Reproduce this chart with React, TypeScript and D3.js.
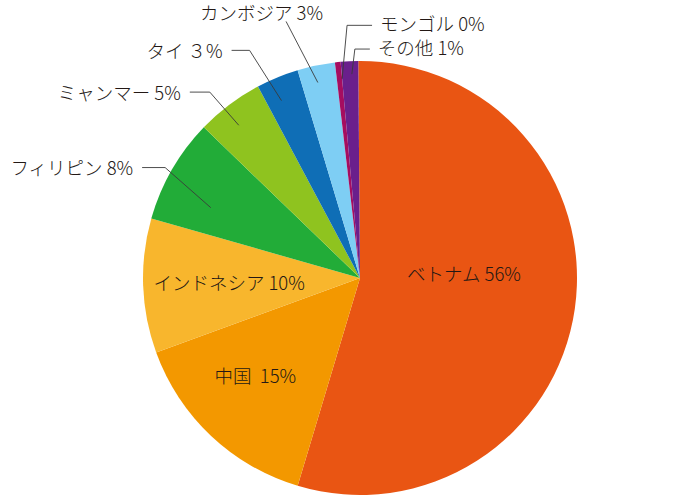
import React, { useRef, useEffect } from 'react';
import * as d3 from 'd3';

// clockwise from 12 o'clock
const COUNTRIES = ["ベトナム", "中国", "インドネシア", "フィリピン", "ミャンマー", "タイ", "カンボジア", "モンゴル", "その他"];
const SHARES = [54.8, 14.8, 10.0, 7.8, 5.0, 3.15, 2.8, 0.42, 1.3];
const LABELS = ["ベトナム 56%", "中国  15%", "インドネシア 10%", "フィリピン 8%", "ミャンマー 5%", "タイ ３%", "カンボジア 3%", "モンゴル 0%", "その他 1%"];
const COLORS = ["#e95513", "#f39800", "#f8b62d", "#22ac38", "#8fc31f", "#0f6eb6", "#7ecef4", "#a50d60", "#6a1f8c"];

// labels drawn inside the slice: radius + angle shift (deg) from slice middle
const INSIDE: { [k: string]: { r: number; shift: number } } = {
    "ベトナム": { r: 104, shift: -10 },
    "中国": { r: 144, shift: 3.3 },
    "インドネシア": { r: 131, shift: -0.3 }
};

// leader lines for small slices
const LEADERS: { [k: string]: { startR: number; startShift: number; elbowR: number; elbowShift: number; arm: number } } = {
    "フィリピン": { startR: 165, startShift: -4.7, elbowR: 224, elbowShift: -0.4, arm: -23 },
    "ミャンマー": { startR: 195, startShift: -1.4, elbowR: 239, elbowShift: -1.9, arm: -20 },
    "タイ": { startR: 194, startShift: -1.5, elbowR: 253, elbowShift: -3.5, arm: -18 },
    "カンボジア": { startR: 200, startShift: -0.5, elbowR: 267, elbowShift: -4.4, arm: 0 },
    "モンゴル": { startR: 200, startShift: 0.75, elbowR: 253, elbowShift: 2.95, arm: 25 },
    "その他": { startR: 204, startShift: 0.5, elbowR: 229, elbowShift: 1.5, arm: 15 }
};

const WIDTH = 700;
const HEIGHT = 496;

const PieChart: React.FC = () => {
    const svgRef = useRef<SVGSVGElement>(null);

    useEffect(() => {
        if (!svgRef.current) return;
        const svg = d3.select(svgRef.current);
        svg.selectAll("*").remove();

        const cx = 360;
        const cy = 278;
        const radius = 217;
        const offset = -0.45 * Math.PI / 180;

        const pie = d3.pie<number>()
            .sort(null)
            .startAngle(offset)
            .endAngle(offset + 2 * Math.PI);
        const arcs = pie(SHARES);
        const arc = d3.arc<d3.PieArcDatum<number>>().innerRadius(0).outerRadius(radius);

        const g = svg.append("g").attr("transform", `translate(${cx},${cy})`);

        g.selectAll("path")
            .data(arcs)
            .join("path")
            .attr("d", arc)
            .attr("fill", (_, i) => COLORS[i]);

        const polar = (r: number, a: number) => [r * Math.sin(a), -r * Math.cos(a)];
        const deg = Math.PI / 180;
        const font = "'Noto Sans CJK JP', 'Noto Sans', sans-serif";
        const fontSize = "18.5px";

        arcs.forEach((d, i) => {
            const name = COUNTRIES[i];
            const mid = (d.startAngle + d.endAngle) / 2;

            if (INSIDE[name]) {
                const p = polar(INSIDE[name].r, mid + INSIDE[name].shift * deg);
                g.append("text")
                    .attr("x", p[0])
                    .attr("y", p[1])
                    .attr("dy", "0.35em")
                    .attr("text-anchor", "middle")
                    .style("font-family", font)
                    .style("font-size", fontSize)
                    .style("font-weight", 300)
                    .style("fill", "#231815")
                    .style("white-space", "pre")
                    .text(LABELS[i]);
                return;
            }

            const L = LEADERS[name];
            if (!L) return;
            const s = polar(L.startR, mid + L.startShift * deg);
            const e = polar(L.elbowR, mid + L.elbowShift * deg);
            const endX = e[0] + L.arm;

            g.append("path")
                .attr("d", `M${s[0]},${s[1]}L${e[0]},${e[1]}L${endX},${e[1]}`)
                .attr("fill", "none")
                .attr("stroke", "#3a3a3a")
                .attr("stroke-width", 0.9);

            const t = g.append("text")
                .style("font-family", font)
                .style("font-size", fontSize)
                .style("font-weight", 300)
                .style("fill", "#231815")
                .attr("dy", "0.35em")
                .text(LABELS[i]);

            if (L.arm === 0) {
                t.attr("x", e[0] + 37).attr("y", e[1] - 8).attr("text-anchor", "end");
            } else if (L.arm < 0) {
                t.attr("x", endX - 9).attr("y", e[1] + 1).attr("text-anchor", "end");
            } else {
                t.attr("x", endX + 8).attr("y", e[1] - 1).attr("text-anchor", "start");
            }
        });
    }, []);

    return (
        <div style={{ position: "absolute", left: 0, top: 0, width: WIDTH, height: HEIGHT, background: "#fff" }}>
            <svg ref={svgRef} width={WIDTH} height={HEIGHT} style={{ display: "block" }} />
        </div>
    );
};

export default function App() {
    return <PieChart />;
}
